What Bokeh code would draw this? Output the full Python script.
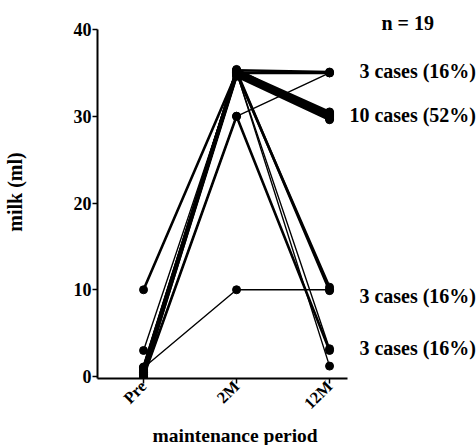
import math
from bokeh.plotting import figure
from bokeh.embed import file_html
from bokeh.resources import INLINE
from bokeh.models import Range1d, FixedTicker, Title
from bokeh.core.properties import value

periods = ["Pre", "2M", "12M"]
period_pos = [0, 1, 2]
y_ticks = [0, 10, 20, 30, 40]

# milk (ml) per case: Pre, 2M, 12M
pre_vals = [0.5, 1.0, 0.0,
            0.3, 0.6, 0.8, 1.0, 0.4, 0.2, 0.7, 0.9, 0.5, 1.1,
            1.0, 10.0, 0.5,
            0.0, 3.0, 0.2]
m2_vals = [35.0, 35.3, 30.0,
           34.6, 34.8, 35.0, 35.2, 35.4, 34.9, 35.1, 34.7, 35.0, 35.3,
           10.0, 35.0, 35.2,
           30.0, 35.0, 35.1]
m12_vals = [35.0, 35.1, 35.0,
            29.6, 29.7, 29.8, 29.9, 30.0, 30.1, 30.2, 30.3, 30.4, 30.5,
            10.0, 10.3, 9.9,
            3.0, 3.2, 1.2]
thin_cases = [2, 13, 17, 18]

group_labels = ["3 cases (16%)", "10 cases (52%)", "3 cases (16%)", "3 cases (16%)"]
group_label_y = [35.2, 30.2, 9.3, 3.3]
n_label = "n = 19"
n_label_y = 40.7
x_title = "maintenance period"
y_title = "milk (ml)"

FONT = "'Liberation Serif', 'Times New Roman', serif"

p = figure(width=476, height=445, output_backend="svg", toolbar_location=None,
           x_range=Range1d(-0.495, 3.58), y_range=Range1d(-0.23, 42.77),
           min_border_left=97, min_border_top=5, min_border_right=0, min_border_bottom=67)
p.outline_line_color = None
p.grid.visible = False
p.background_fill_color = "white"

for i in range(len(pre_vals)):
    ys = [pre_vals[i], m2_vals[i], m12_vals[i]]
    lw = 1.4 if i in thin_cases else 2.6
    p.line(period_pos, ys, line_color="black", line_width=lw)
    p.scatter(period_pos, ys, size=8, marker="circle", fill_color="black", line_color="black")

font = value(FONT)
p.text(x=[3.575] * len(group_labels), y=group_label_y, text=group_labels,
       text_font=font, text_font_style="bold", text_font_size="20px",
       text_align="right", text_baseline="middle", text_color="black")
p.text(x=[2.84], y=[n_label_y], text=[n_label], text_font=font, text_font_style="bold",
       text_font_size="20px", text_align="center", text_baseline="middle", text_color="black")

xa = p.xaxis[0]
xa.ticker = FixedTicker(ticks=period_pos)
xa.major_label_overrides = {pp: lab for pp, lab in zip(period_pos, periods)}
xa.major_label_orientation = math.pi / 4
xa.bounds = (-0.495, 2.19)

ya = p.yaxis[0]
ya.ticker = FixedTicker(ticks=y_ticks)
ya.bounds = (-0.23, 40)
ya.axis_label = y_title

for ax in (xa, ya):
    ax.minor_tick_line_color = None
    ax.major_tick_in = 0
    ax.major_tick_out = 5
    ax.axis_line_width = 2
    ax.major_tick_line_width = 1.5
    ax.axis_line_color = "black"
    ax.major_tick_line_color = "black"
    ax.major_label_text_font = FONT
    ax.major_label_text_font_style = "bold"
    ax.major_label_text_font_size = "18px"
    ax.major_label_text_color = "black"
    ax.axis_label_text_font = FONT
    ax.axis_label_text_font_style = "bold"
    ax.axis_label_text_font_size = "20px"
    ax.axis_label_text_color = "black"
    ax.major_label_standoff = 1

xa.major_label_text_font_size = "16.5px"
xa.major_label_standoff = 0
ya.axis_label_standoff = 45

t = Title(text=x_title, align="left", offset=55, standoff=0,
          text_font=FONT, text_font_style="bold", text_font_size="19.5px", text_color="black")
p.add_layout(t, "below")

open("out.html", "w").write(file_html(p, INLINE))
